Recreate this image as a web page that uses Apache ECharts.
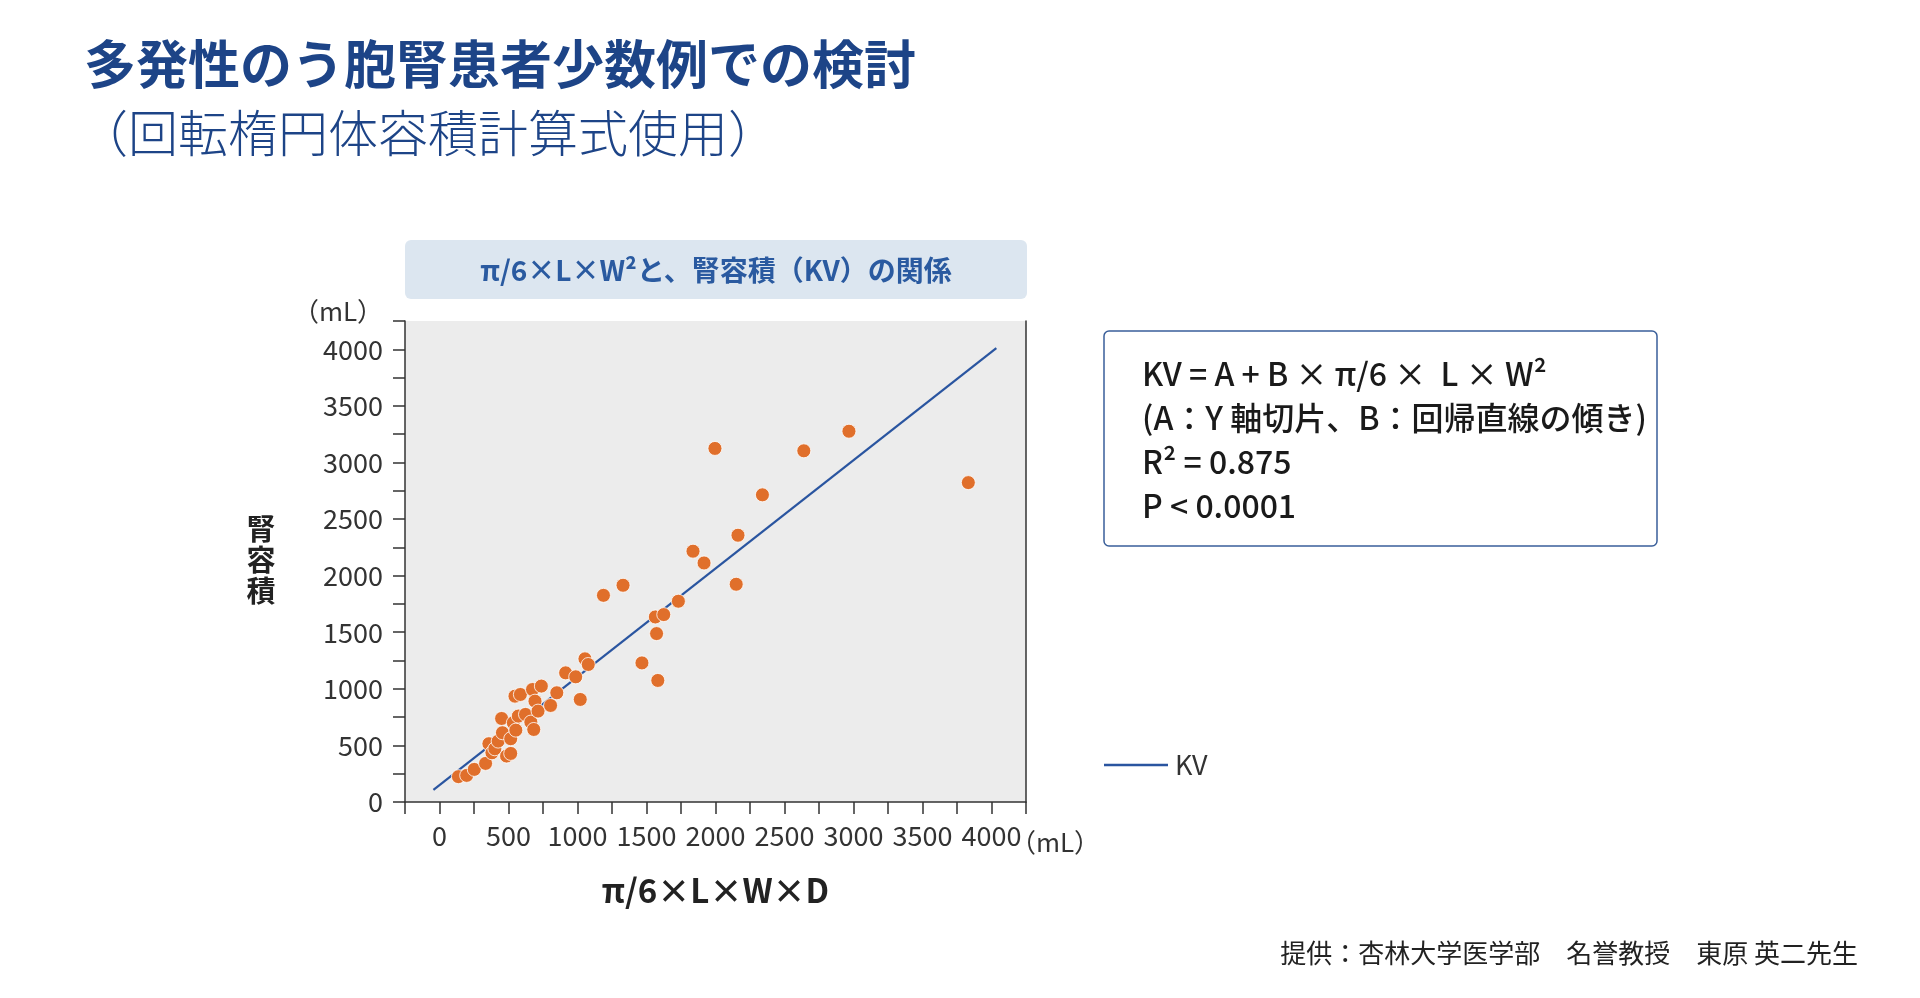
<!DOCTYPE html>
<html><head><meta charset="utf-8">
<script src="https://cdn.jsdelivr.net/npm/echarts@6/dist/echarts.min.js"></script>
<style>html,body{margin:0;padding:0;background:#fff}#c{width:1920px;height:998px}</style>
</head><body><div id="c"></div>
<script>
const xVals = [137,197,252,334,358,380,401,425,450,456,486,516,516,535,553,547,586,571,623,662,674,683,692,714,738,805,850,914,987,1020,1054,1078,1188,1330,1467,1564,1625,1573,1582,1731,1917,2150,1837,2163,2340,1996,2640,2967,3832];
const yVals = [224,235,288,341,515,435,470,538,738,612,406,429,559,700,635,935,950,759,774,706,994,641,891,803,1024,853,965,1141,1106,906,1265,1215,1826,1915,1229,1635,1656,1488,1074,1774,2112,1924,2216,2357,2714,3124,3103,3276,2822];
const lineX = [-44, 4035];
const lineY = [108, 4011];
const xTicks = [0,500,1000,1500,2000,2500,3000,3500,4000];
const yTicks = [0,500,1000,1500,2000,2500,3000,3500,4000];
const FONT = '"Noto Sans CJK JP", "Noto Sans", sans-serif';
const NAVY = '#1d4487';

const chart = echarts.init(document.getElementById('c'));
const pts = xVals.map((x,i)=>[x,yVals[i]]);
chart.setOption({
  animation:false,
  textStyle:{fontFamily:FONT},
  grid:{left:405,right:894,top:321,bottom:196,show:true,backgroundColor:'#ececec',borderWidth:0},
  xAxis:{type:'value',min:-250,max:4250,interval:250,position:'bottom',
    axisLine:{show:true,onZero:false,lineStyle:{color:'#333',width:1.5}},
    axisTick:{show:true,length:12,lineStyle:{color:'#333',width:1.5}},
    splitLine:{show:false},
    axisLabel:{color:'#333',fontSize:27,fontFamily:FONT,margin:20,
      formatter:v=>xTicks.includes(v)?String(v):''},
    name:'π/6×L×W×D',nameLocation:'middle',nameGap:72,
    nameTextStyle:{fontSize:33,fontWeight:'bold',color:'#222',fontFamily:FONT}},
  yAxis:[{type:'value',min:0,max:4250,interval:250,position:'left',
    axisLine:{show:true,onZero:false,lineStyle:{color:'#333',width:1.5}},
    axisTick:{show:true,length:12,lineStyle:{color:'#333',width:1.5}},
    splitLine:{show:false},
    axisLabel:{color:'#333',fontSize:27,fontFamily:FONT,margin:22,
      formatter:v=>yTicks.includes(v)?String(v):''}},
    {type:'value',min:0,max:4250,position:'right',axisLine:{show:true,onZero:false,lineStyle:{color:'#333',width:1.5}},
      axisTick:{show:false},axisLabel:{show:false},splitLine:{show:false}}],
  series:[
    {type:'line',name:'KV',data:[[lineX[0],lineY[0]],[lineX[1],lineY[1]]],symbol:'none',
      lineStyle:{color:'#2a55a0',width:2.2},z:3},
    {type:'scatter',data:pts,symbolSize:14,itemStyle:{color:'#e06f2b',borderColor:'#fff',borderWidth:0.8,opacity:1},z:4}
  ],
  graphic:[
    {type:'text',left:84,top:38,style:{text:'多発性のう胞腎患者少数例での検討',font:'bold 52px '+FONT,fill:NAVY}},
    {type:'text',left:78,top:108,style:{text:'（回転楕円体容積計算式使用）',font:'300 50px '+FONT,fill:NAVY}},
    {type:'rect',shape:{x:405,y:240,width:622,height:59,r:6},style:{fill:'#dce6f0'}},
    {type:'text',x:716,y:270,style:{text:'π/6×L×W²と、腎容積（KV）の関係',font:'bold 28px '+FONT,fill:'#2a5aa0',align:'center',verticalAlign:'middle'}},
    {type:'text',x:338,y:311,style:{text:'（mL）',font:'26px '+FONT,fill:'#333',align:'center',verticalAlign:'middle'}},
    {type:'text',x:1055,y:842,style:{text:'（mL）',font:'26px '+FONT,fill:'#333',align:'center',verticalAlign:'middle'}},
    {type:'text',x:261,y:560,style:{text:'腎\n容\n積',font:'bold 29px '+FONT,fill:'#222',align:'center',verticalAlign:'middle',lineHeight:31}},
    {type:'rect',shape:{x:1104,y:331,width:553,height:215,r:5},style:{fill:'#fff',stroke:'#3a5f9a',lineWidth:1.5}},
    {type:'text',left:1142,top:352,style:{text:'KV = A + B × π/6 ×  L × W²\n(A：Y 軸切片、B：回帰直線の傾き)\nR² = 0.875\nP < 0.0001',
      font:'500 32px '+FONT,fill:'#1a1a1a',lineHeight:44}},
    {type:'line',shape:{x1:1104,y1:765,x2:1168,y2:765},style:{stroke:'#2a55a0',lineWidth:2.5}},
    {type:'text',x:1175,y:765,style:{text:'KV',font:'27px '+FONT,fill:'#333',verticalAlign:'middle'}},
    {type:'text',right:62,top:940,style:{text:'提供：杏林大学医学部　名誉教授　東原 英二先生',font:'26px '+FONT,fill:'#222'}}
  ]
});
</script></body></html>
